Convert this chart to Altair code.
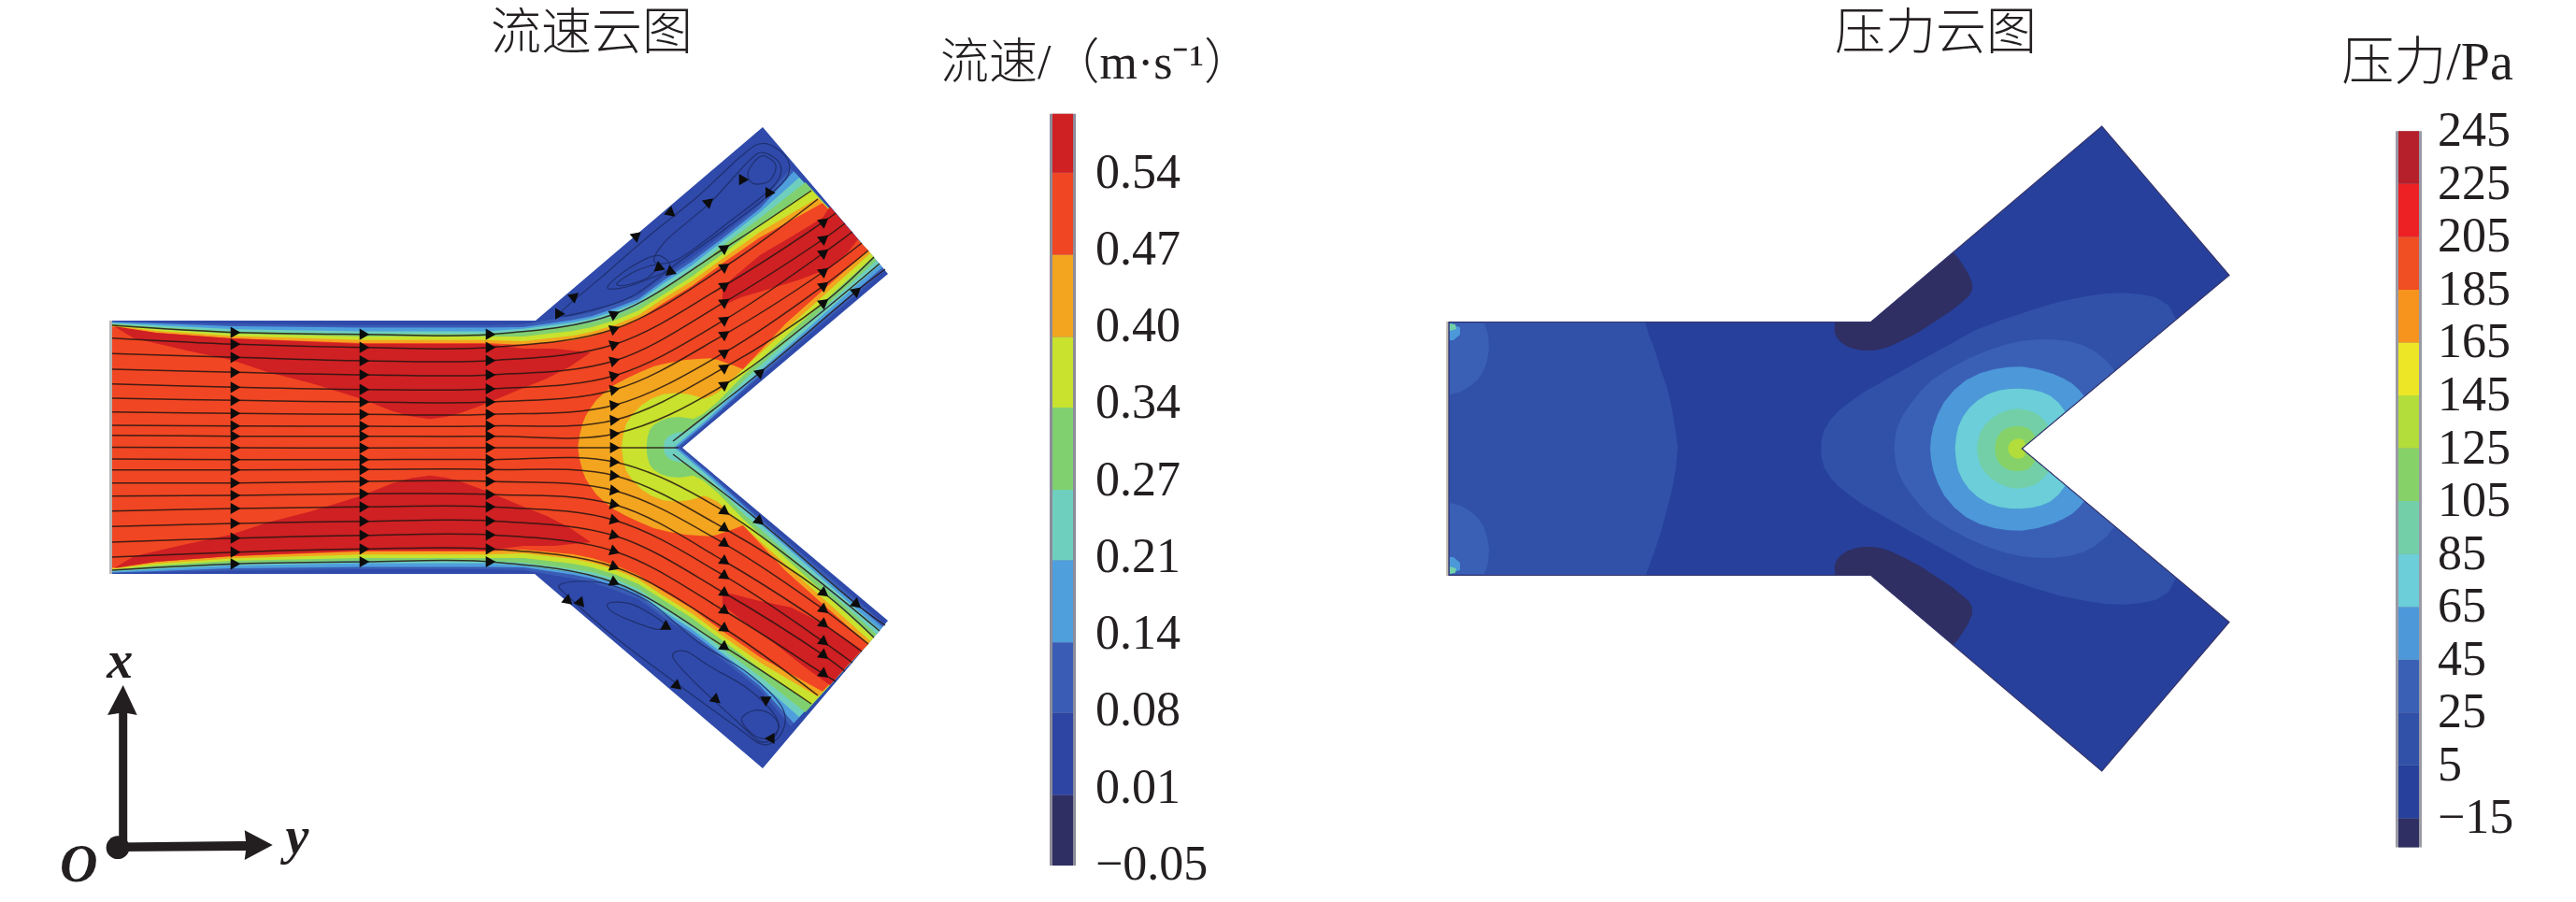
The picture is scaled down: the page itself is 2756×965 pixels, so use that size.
import altair as alt
import pandas as pd

# ---------- colours ----------
VEL_COLORS = ['#2f2f63', '#2e45a3', '#3a5cb5', '#4f9fdd', '#6fcfbe', '#80d070', '#c8e22e', '#f3a51f', '#f04623', '#cf2023']
VEL_EDGES = [-0.05, 0.01, 0.08, 0.14, 0.21, 0.27, 0.34, 0.40, 0.47, 0.54, 0.59]
VEL_LABELS = ['0.54', '0.47', '0.40', '0.34', '0.27', '0.21', '0.14', '0.08', '0.01', '−0.05']
PRE_COLORS = ['#2f2f63', '#27409c', '#3151a8', '#3a60b6', '#4c98d8', '#6bced8', '#72cfa8', '#86d268', '#b2dd3a',
              '#ece626', '#f7941d', '#f04e23', '#ed2024', '#b5202a']
PRE_EDGES = [-26, -15, 5, 25, 45, 65, 85, 105, 125, 145, 165, 185, 205, 225, 245]
PRE_LABELS = ['245', '225', '205', '185', '165', '145', '125', '105', '85', '65', '45', '25', '5', '−15']

# ---------- left panel: channel outline (image pixels) ----------
VEL_SHAPE = [(120, 343), (573, 343), (816, 136), (950, 293), (730, 479), (950, 664), (816, 822), (572, 614), (120, 614)]

# upper contour of each velocity level, inlet to outlet
L08 = [(120, 344), (167, 345), (247, 346.5), (387, 348), (520, 348), (560, 347), (613, 338), (633, 334), (657, 326), (683, 316), (710, 296), (740, 276), (773, 251), (813, 219), (846, 180)]
L14 = [(120, 344.5), (167, 346), (247, 349), (387, 350.5), (520, 350.5), (560, 350), (613, 342.3), (633, 338.3), (657, 330), (683, 320), (710, 300), (740, 280), (773, 255), (813, 223.3), (849.3, 183.3)]
L21 = [(120, 345.5), (167, 348), (247, 352), (387, 354.5), (520, 354.5), (560, 351.7), (613, 345), (633, 340.7), (657, 333.3), (683, 322.7), (710, 303.3), (740, 284), (773, 258), (813, 227.3), (855, 190)]
L27 = [(120, 346.5), (167, 350), (247, 354.5), (387, 357.3), (520, 357.3), (560, 355), (613, 348.3), (633, 345), (657, 338), (683, 326.7), (710, 308.3), (740, 289.3), (773, 263), (813, 233.3), (861.7, 195)]
L34 = [(120, 347.5), (167, 352), (247, 357), (387, 360), (520, 360), (560, 360), (613, 354), (633, 350), (657, 343), (683, 332.3), (710, 315), (740, 296), (773, 271.7), (813, 241.7), (868.3, 203.3)]
L40 = [(120, 348.5), (167, 354), (247, 359.5), (387, 363.7), (520, 363.7), (560, 365), (613, 359.3), (633, 355), (657, 348), (683, 337.3), (710, 319.3), (740, 300.7), (773, 276.7), (813, 248.3), (875, 211.7)]
L47 = [(120, 349.5), (167, 356), (247, 362), (387, 367), (520, 367), (560, 369), (613, 364), (633, 360), (657, 352.7), (683, 341.7), (710, 324), (740, 306), (773, 281.7), (813, 254), (880, 217.3)]

# notch-side contours as (distance along wall from notch, distance off the wall)
W08 = [(288, 5), (170, 4.5), (100, 4), (40, 2.5)]
W14 = [(288, 9), (230, 8), (170, 7), (100, 6), (40, 4)]
W21 = [(288, 13), (230, 12), (170, 10.5), (100, 9), (40, 6)]
W27 = [(288, 19), (230, 17), (170, 15), (100, 12.5), (50, 9)]
W34 = [(288, 24), (230, 22), (170, 20), (100, 17), (60, 13)]
W40 = [(288, 29), (230, 27), (170, 25), (100, 22)]
W47 = [(288, 33), (230, 31.5), (170, 30)]

# contour round the stagnation point, ending on the centre line
N08 = [(727, 478.5)]
N14 = [(724, 478.5)]
N21 = [(721, 478.5)]
N27 = [(732, 461.7), (723, 463.3), (715, 466.7), (711, 472), (710, 478.5)]
N34 = [(751.7, 443.3), (741.7, 448.3), (726.7, 446), (715, 447), (706.7, 450), (699.5, 454.5), (695, 460), (692.5, 469), (691.7, 478.5)]
N40 = [(768, 420), (760, 424), (753.3, 426.7), (745, 424), (736.7, 421.7), (723, 420.5), (710, 421.7), (697, 426.5), (686.7, 433.3), (677, 443), (670, 453.3), (666.5, 466), (665, 478.5)]
N47 = [(795, 395), (785, 391), (776.7, 388.3), (768, 385), (760, 383.3), (747, 384), (733.3, 385), (716, 388), (700, 391.7), (685, 398), (670, 405), (657, 412), (646.7, 420), (638, 428), (631.7, 436.7), (626.5, 445), (623.3, 453.3), (620, 466), (618.3, 478.5)]

# deep red cores
RED_CH = [(122, 349), (143, 361.7), (200, 375), (247, 385), (287, 398.3), (333, 410), (387, 426.7), (420, 440), (440, 445.5), (460, 448.3), (477, 446), (493, 441.7), (520, 431.7), (560, 415), (585, 405), (610, 392), (632, 377), (593, 373), (560, 373), (520, 368), (387, 368), (247, 362), (167, 356)]
RED_UP = [(773, 320), (773, 306.7), (787, 295), (813, 273), (847, 253), (880, 233), (888, 221), (918, 256), (907, 270), (888, 287), (853, 300), (827, 308), (793, 318), (773, 327)]
RED_LO = [(773, 633), (813, 643), (847, 650), (880, 667), (922, 695), (888, 733), (860, 713), (827, 687), (793, 663), (773, 647)]

# ---------- streamlines ----------
COL_X = [120, 252, 390, 525, 658, 776, 882]
COL0 = [348, 361.7, 378.3, 395, 410.7, 426, 440.7, 455, 465.7, 478.5, 491, 502.7, 516.7, 530.7, 546.7, 563.3, 580, 596, 610]
COL1 = [355.7, 368.3, 382.3, 398.3, 414.3, 428.3, 442.3, 455.7, 466.7, 479, 491.7, 502.7, 516.7, 530, 544, 560, 575.7, 590.7, 603.3]
COL2 = [357.7, 371.7, 386, 401, 416.7, 430, 443.3, 456, 466.7, 479.3, 491.7, 502.3, 515, 528.3, 542.3, 557.7, 572.7, 587.3, 601]
COL3 = [357.7, 371.7, 385.7, 401, 416, 430, 443.3, 455.7, 466.7, 479, 491.7, 502.3, 515, 529, 542.3, 557.3, 572.3, 587.3, 601]
COL4 = [335.7, 351.7, 368.3, 385.7, 401.7, 416.7, 433.3, 449.3, 464, 479, 494.3, 509, 525, 540, 556.7, 573.3, 590, 606.7, 623.3]
COL5 = [265, 285, 305, 322.7, 341.7, 357.3, 376.7, 392.7, 411, None, 547.7, 566, 582.3, 601, 616.7, 635, 654, 673, 692.7]
COL6 = [None, None, 236.7, 255, 270, 290, 305, 323.3, None, None, None, 635, 652.7, 668.3, 687.3, 701.7, 721.7, None, None]
OUT_END = [(868, 204), (875, 213), (894, 228), (904, 239), (912, 248), (922, 260), (929, 268), (935, 275), (941, 282), (726, 479),
           (941, 675), (935, 682), (929, 689), (922, 697), (912, 709), (904, 718), (894, 729), (875, 744), (868, 753)]
ANG4 = [-25, -22, -20, -17, -14, -12, -8, -5, -3, 0, 3, 5, 8, 12, 14, 17, 20, 22, 25]
WALL_UP = [(720, 472), (814, 398), (917, 311), (947, 288)]
WALL_LO = [(720, 486), (813, 558), (917, 647), (947, 669)]

# recirculation loops (crop coordinates of the upper and lower branch)
LOOPS_UP = [
    [(120, 615), (250, 500), (400, 370), (560, 240), (700, 110), (770, 70), (840, 110), (850, 170), (790, 235), (640, 350), (500, 450), (350, 560), (200, 610)],
    [(460, 380), (600, 260), (720, 130), (770, 100), (825, 140), (800, 210), (650, 330), (500, 440), (420, 450)],
    [(740, 130), (770, 110), (810, 140), (790, 190), (740, 200), (720, 170)],
    [(270, 530), (340, 470), (430, 430), (470, 470), (390, 510), (310, 535)],
    [(300, 520), (360, 480), (430, 460), (400, 500), (330, 525)],
]
LOOPS_LO = [
    [(120, 375), (250, 370), (400, 430), (560, 560), (720, 660), (830, 770), (830, 850), (770, 890), (680, 830), (500, 700), (300, 550), (150, 420)],
    [(600, 640), (720, 710), (810, 800), (810, 860), (760, 880), (680, 810), (560, 700), (480, 610), (520, 590)],
    [(740, 780), (790, 790), (820, 830), (790, 870), (740, 860), (700, 810)],
    [(275, 435), (350, 440), (450, 500), (430, 520), (340, 490), (280, 460)],
]
ARROWS_UP = [(700, 182, -120), (785, 233, 120), (597, 257, -40), (475, 295, 40), (365, 365, -40), (165, 560, -40), (118, 617, 0), (440, 470, 20), (468, 485, 140)]
ARROWS_LO = [(145, 430, 40), (185, 437, 50), (457, 505, -90), (495, 703, 40), (620, 747, 40), (778, 752, 90), (790, 870, 180)]

# ---------- right panel ----------
PRE_SHAPE = [(1550, 344.5), (2001.7, 344.5), (2248.7, 135), (2385, 294.5), (2163.3, 480), (2385, 665.5), (2248.7, 825), (2001.7, 615.5), (1550, 615.5)]
P_LEFT = [(1550, 345), (1760, 345), (1764, 358), (1770, 373), (1776, 393), (1783, 413), (1789, 438), (1793, 463), (1795, 480), (1793, 500), (1789, 523), (1783, 547), (1777, 569), (1770, 590), (1765, 603), (1761, 615), (1550, 615)]
P_SEMI = [(1551, 346), (1588, 346), (1592, 358), (1593, 373), (1591, 386), (1587, 397), (1581, 406), (1573, 413), (1563, 419), (1551, 422)]
P_CORNER1 = [(1551, 347), (1562, 350), (1562, 358), (1555, 364), (1551, 364)]
P_CORNER2 = [(1551, 346), (1557, 347), (1558, 352), (1551, 354)]
P_NAVY = [(1963.3, 344), (2001.7, 344), (2090, 270), (2095, 276), (2100, 283.3), (2106, 293), (2110, 303.3), (2110, 310), (2106.7, 316.7), (2097, 325), (2086.7, 333.3), (2070, 344), (2053.3, 355), (2038, 363), (2023.3, 370), (2013, 373.5), (2003.3, 375), (1993, 375), (1983.3, 373.3), (1975, 370), (1968.3, 365), (1964.5, 360), (1962.7, 355)]
# pressure contours in crop coordinates, centre line to wall
P25 = [(205, 660), (207, 630), (215, 600), (235, 568), (260, 540), (298, 510), (340, 480), (420, 435), (500, 390), (600, 335), (700, 280), (790, 245), (880, 215), (970, 188), (1060, 170), (1120, 162), (1180, 160), (1235, 165), (1280, 175), (1320, 200), (1345, 245)]
P45 = [(440, 660), (443, 625), (450, 590), (467, 553), (490, 520), (522, 478), (560, 440), (618, 403), (680, 370), (740, 345), (800, 325), (850, 314), (900, 310), (950, 310), (1000, 315), (1045, 328), (1080, 345), (1118, 375), (1148, 410)]
P65 = [(555, 660), (558, 625), (565, 590), (580, 548), (600, 510), (632, 472), (670, 440), (715, 418), (760, 405), (805, 398), (850, 397), (900, 405), (950, 420), (982, 434), (1010, 450), (1032, 470), (1050, 492)]
P85 = [(635, 660), (638, 625), (645, 590), (660, 558), (680, 530), (708, 505), (740, 485), (775, 473), (810, 468), (845, 467), (880, 470), (912, 478), (940, 490), (967, 512), (990, 543)]
P105 = [(705, 660), (708, 635), (715, 610), (730, 585), (750, 565), (778, 547), (810, 535), (835, 532), (860, 535), (882, 541), (900, 550), (920, 567), (935, 589)]
P125 = [(763, 660), (765, 640), (772, 620), (784, 605), (800, 595), (820, 589), (840, 588), (856, 590), (870, 595), (883, 607), (893, 624)]
P145 = [(805, 660), (807, 650), (812, 640), (822, 632), (835, 628), (846, 629), (855, 632), (860, 642), (860, 652)]

# ---------- triad ----------
AXIS_X = [(127.2, 907), (136.2, 907), (136.2, 763), (146.7, 765), (131.7, 733), (115, 765), (127.2, 763)]
AXIS_Y = [(126, 901.5), (263, 900), (261.7, 888.3), (291.7, 904), (261.7, 920), (263, 910), (126, 911)]
ORIGIN = [(126, 906.7)]


# ---------- helpers (image pixels -> features) ----------
def wall(pts):
    return [(730 + 0.764 * s - 0.646 * d, 479 - 0.646 * s - 0.764 * d) for s, d in pts]


def mirror(pts, c):
    return [(x, 2 * c - y) for x, y in pts]


def feat(ring, color):
    r = [list(p) for p in ring]
    return {"type": "Feature", "properties": {"c": color},
            "geometry": {"type": "Polygon", "coordinates": [r + [r[0]]]}}


def level(up, w, n, color):
    half = up + wall(w) + n
    return feat(half + mirror(half[:-1], 478.5)[::-1], color)


def z5(p):
    return [(560 + a[0] / 3, 130 + a[1] / 3) for a in p]


def z8(p):
    return [(560 + a[0] / 3, 500 + a[1] / 3) for a in p]


def z9(p):
    return [(1880 + a[0] / 3, 260 + a[1] / 3) for a in p]


def plevel(c_pts, color):
    half = z9(c_pts)
    tip = [(2163.3, 480)]
    return feat(half + tip + mirror(half[1:], 480)[::-1], color)


features = [
    feat([(117, 343), (120, 343), (120, 614), (117, 614)], '#b5b5b5'),
    feat(VEL_SHAPE, '#2f4aaa'),
    level(L08, W08, N08, VEL_COLORS[2]),
    level(L14, W14, N14, VEL_COLORS[3]),
    level(L21, W21, N21, VEL_COLORS[4]),
    level(L27, W27, N27, VEL_COLORS[5]),
    level(L34, W34, N34, VEL_COLORS[6]),
    level(L40, W40, N40, VEL_COLORS[7]),
    level(L47, W47, N47, VEL_COLORS[8]),
    feat(RED_CH, VEL_COLORS[9]), feat(mirror(RED_CH, 478.5), VEL_COLORS[9]),
    feat(RED_UP, VEL_COLORS[9]), feat(RED_LO, VEL_COLORS[9]),
    feat([(1547, 344), (1550, 344), (1550, 616), (1547, 616)], '#cfcabf'),
    feat(PRE_SHAPE, PRE_COLORS[1]),
    feat(P_LEFT, PRE_COLORS[2]),
    feat(P_SEMI, PRE_COLORS[3]), feat(mirror(P_SEMI, 480), PRE_COLORS[3]),
    feat(P_CORNER1, PRE_COLORS[4]), feat(mirror(P_CORNER1, 480), PRE_COLORS[4]),
    feat(P_CORNER2, PRE_COLORS[6]), feat(mirror(P_CORNER2, 480), PRE_COLORS[6]),
    feat(P_NAVY, PRE_COLORS[0]), feat(mirror(P_NAVY, 480), PRE_COLORS[0]),
    plevel(P25, PRE_COLORS[2]),
    plevel(P45, PRE_COLORS[3]),
    plevel(P65, PRE_COLORS[4]),
    plevel(P85, PRE_COLORS[5]),
    plevel(P105, PRE_COLORS[6]),
    plevel(P125, PRE_COLORS[7]),
    plevel(P145, PRE_COLORS[8]),
    feat(AXIS_X, '#231f20'), feat(AXIS_Y, '#231f20'),
]

PROJ = dict(type='identity', scale=1, translate=[-8, -8])
xs = alt.Scale(domain=[8, 2748], range=[0, 2740], nice=False, zero=False)
ys = alt.Scale(domain=[8, 957], range=[0, 949], nice=False, zero=False)
X = lambda f: alt.X(f, scale=xs, axis=None)
Y = lambda f: alt.Y(f, scale=ys, axis=None)

fills = alt.Chart(alt.Data(values=features)).mark_geoshape(strokeWidth=0).encode(
    fill=alt.Fill('properties.c:N', scale=None)
).project(**PROJ)

outline = alt.Chart(alt.Data(values=[feat(PRE_SHAPE, '#2f2f63')])).mark_geoshape(
    filled=False, stroke='#34346c', strokeWidth=1.2
).project(**PROJ)

# streamlines
rows, arrows = [], []
cols = [COL0, COL1, COL2, COL3, COL4, COL5, COL6]
for i in range(19):
    seq = [(COL_X[k], cols[k][i]) for k in range(7) if cols[k][i] is not None] + [OUT_END[i]]
    for j, (x, y) in enumerate(seq):
        rows.append(dict(line=i, seq=j, x=x, y=y))
    for k in range(1, 7):
        if cols[k][i] is not None:
            sign = -1 if i < 9 else 1
            ang = 0 if k < 4 else ANG4[i] if k == 4 else sign * (35 if k == 5 else 38)
            arrows.append(dict(x=COL_X[k], y=cols[k][i], a=ang % 360))
for n, pts in enumerate([WALL_UP, WALL_LO]):
    for j, (x, y) in enumerate(pts):
        rows.append(dict(line=30 + n, seq=j, x=x, y=y))
        if 0 < j < 3:
            arrows.append(dict(x=x, y=y, a=(-40 if n == 0 else 40) % 360))
loops = []
for n, lp in enumerate([z5(l) for l in LOOPS_UP] + [z8(l) for l in LOOPS_LO]):
    for j, (x, y) in enumerate(lp):
        loops.append(dict(line=n, seq=j, x=x, y=y))
for (x, y), a in zip(z5(ARROWS_UP), [a[2] for a in ARROWS_UP]):
    arrows.append(dict(x=x, y=y, a=a % 360))
for (x, y), a in zip(z8(ARROWS_LO), [a[2] for a in ARROWS_LO]):
    arrows.append(dict(x=x, y=y, a=a % 360))

lines = alt.Chart(pd.DataFrame(rows)).mark_line(
    interpolate='catmull-rom', color='#241512', strokeWidth=1.5, opacity=0.85
).encode(x=X('x:Q'), y=Y('y:Q'), detail='line:N', order='seq:Q')
loop_lines = alt.Chart(pd.DataFrame(loops)).mark_line(
    interpolate='cardinal-closed', color='#1d2c66', strokeWidth=1.2, opacity=0.85
).encode(x=X('x:Q'), y=Y('y:Q'), detail='line:N', order='seq:Q')
heads = alt.Chart(pd.DataFrame(arrows)).mark_point(
    shape='triangle-right', filled=True, color='#0c0c0c', size=150, opacity=1
).encode(x=X('x:Q'), y=Y('y:Q'), angle=alt.Angle('a:Q', scale=None))
origin = alt.Chart(pd.DataFrame(ORIGIN, columns=['x', 'y'])).mark_point(
    shape='circle', filled=True, color='#231f20', size=615, opacity=1
).encode(x=X('x:Q'), y=Y('y:Q'))


def colorbar(edges, colors, y_top, y_bot, x0, x1, x2, x3, edge_color):
    df = pd.DataFrame(dict(lo=edges[:-1], hi=edges[1:], c=colors))
    sc = alt.Scale(domain=[edges[0], edges[-1]], range=[y_bot - 8, y_top - 8], nice=False, zero=False)
    back = alt.Chart(pd.DataFrame(dict(lo=[edges[0]], hi=[edges[-1]]))).mark_rect(color=edge_color).encode(
        x=alt.value(x0 - 8), x2=alt.value(x3 - 8), y=alt.Y('lo:Q', scale=sc, axis=None), y2='hi:Q')
    bands = alt.Chart(df).mark_rect().encode(
        x=alt.value(x1 - 8), x2=alt.value(x2 - 8), y=alt.Y('lo:Q', scale=sc, axis=None), y2='hi:Q',
        fill=alt.Fill('c:N', scale=None))
    return [back, bands]


SERIF = 'Liberation Serif, Noto Sans CJK SC'


def label(text, x, y, size, font=SERIF, align='left', style='normal', weight='normal'):
    return alt.Chart(alt.Data(values=[{"t": text}])).mark_text(
        font=font, fontSize=size, align=align, baseline='middle', color='#231f20', fontStyle=style, fontWeight=weight
    ).encode(text='t:N', x=alt.value(x - 8), y=alt.value(y - 8))


vel_tbl = pd.DataFrame(dict(t=VEL_LABELS, i=list(range(len(VEL_LABELS)))))
vel_text = alt.Chart(vel_tbl).mark_text(
    font=SERIF, fontSize=52, align='left', baseline='middle', color='#231f20'
).encode(text='t:N', x=alt.value(1172 - 8),
         y=alt.Y('i:Q', axis=None, scale=alt.Scale(domain=[0, 9], range=[184.6 - 8, 925 - 8], nice=False, zero=False)))

pre_tbl = pd.DataFrame(dict(t=PRE_LABELS, v=PRE_EDGES[:0:-1]))
pre_text = alt.Chart(pre_tbl).mark_text(
    font=SERIF, fontSize=52, align='left', baseline='middle', color='#231f20'
).encode(text='t:N', x=alt.value(2608 - 8),
         y=alt.Y('v:Q', axis=None, scale=alt.Scale(domain=[PRE_EDGES[0], PRE_EDGES[-1]], range=[906.5 - 8, 140.3 - 8], nice=False, zero=False)))

layers = [fills, outline, loop_lines, lines, heads, origin]
layers += colorbar(VEL_EDGES, VEL_COLORS, 121.8, 926, 1123, 1126, 1148, 1151, '#8c8c9a')
layers += colorbar(PRE_EDGES, PRE_COLORS, 140.3, 906.5, 2563, 2566, 2588, 2591, '#9a9aa6')
layers += [vel_text, pre_text,
           label('流速云图', 633, 37, 54, align='center', weight=300),
           label('压力云图', 2071, 37, 54, align='center', weight=300),
           label('流速/（m·s⁻¹）', 1173, 68, 52, align='center', weight=300),
           label('压力/Pa', 2597, 68, 56, align='center', weight=300),
           label('x', 128.3, 708, 56, style='italic', weight='bold', align='center'),
           label('y', 318, 896, 56, style='italic', weight='bold', align='center'),
           label('O', 84.3, 926, 56, style='italic', weight='bold', align='center')]

chart = alt.layer(*layers).resolve_scale(x='independent', y='independent').properties(
    width=2740, height=949, padding=0, autosize=alt.AutoSizeParams(type='none'),
    background='white'
).configure_view(stroke=None)

chart.save("out.html", embed_options={"renderer": "svg", "actions": False})
